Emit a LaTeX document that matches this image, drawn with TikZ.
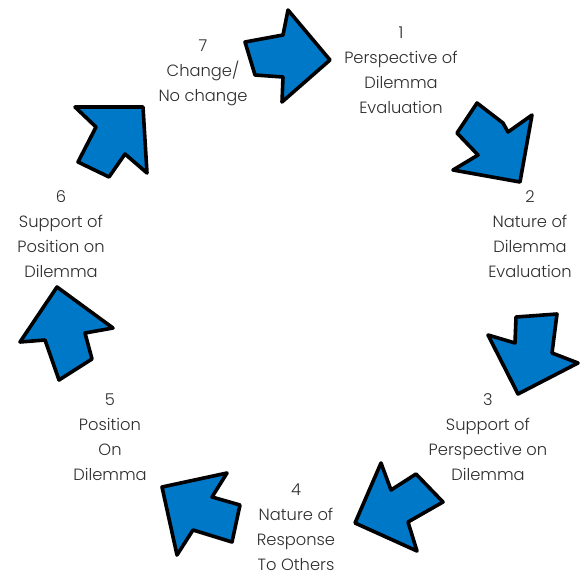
\documentclass[tikz,border=0pt]{standalone}
\usepackage{fontspec}
\newfontfamily\labfont{Poppins Light}
\begin{document}
\begin{tikzpicture}[x=1pt,y=-1pt,
  cyclearrow/.style={fill={rgb,255:red,0;green,120;blue,200},draw=black,line width=3.6pt,line join=round},
  steplabel/.style={font=\labfont\fontsize{16.3}{25}\selectfont,text={rgb,255:red,45;green,45;blue,45},align=center,inner sep=0pt}]
\useasboundingbox (0,0) rectangle (581,579);
% arrows of the cycle
\filldraw[cyclearrow] (245,42) -- (283,35) -- (288,10) -- (330,60) -- (282,102) -- (283,77) -- (255,75) -- cycle;
\filldraw[cyclearrow] (477,103) -- (503,123) -- (508,132) -- (532,115) -- (520,182) -- (453,170) -- (478,155) -- (457,133) -- cycle;
\filldraw[cyclearrow] (516,317) -- (557,314) -- (552,353) -- (578,363) -- (518,394) -- (488,335) -- (515,343) -- cycle;
\filldraw[cyclearrow] (381,463) -- (391,490) -- (416,474) -- (443,502) -- (408,522) -- (417,551) -- (355,523) -- cycle;
\filldraw[cyclearrow] (162,487) -- (227,473) -- (212,497) -- (240,505) -- (232,542) -- (193,530) -- (177,555) -- cycle;
\filldraw[cyclearrow] (57,287) -- (113,328) -- (85,333) -- (92,359) -- (59,380) -- (45,340) -- (20,342) -- cycle;
\filldraw[cyclearrow] (75,107) -- (143,107) -- (147,173) -- (125,154) -- (109,177) -- (78,162) -- (96,127) -- cycle;
% step labels
\node[steplabel,anchor=north] (s1) at (401,27) {1\\Perspective of\\Dilemma\\Evaluation};
\node[steplabel,anchor=north] (s2) at (530,190) {2\\Nature of\\Dilemma\\Evaluation};
\node[steplabel,anchor=north] (s3) at (488,393) {3\\Support of\\Perspective on\\Dilemma};
\node[steplabel,anchor=north] (s4) at (296,484) {4\\Nature of\\Response\\To Others};
\node[steplabel,anchor=north] (s5) at (110,394) {5\\Position\\On\\Dilemma};
\node[steplabel,anchor=north] (s6) at (61,190) {6\\Support of\\Position on\\Dilemma};
\node[steplabel,anchor=north] (s7) at (203,40) {7\\Change/\\No change};
\end{tikzpicture}
\end{document}
